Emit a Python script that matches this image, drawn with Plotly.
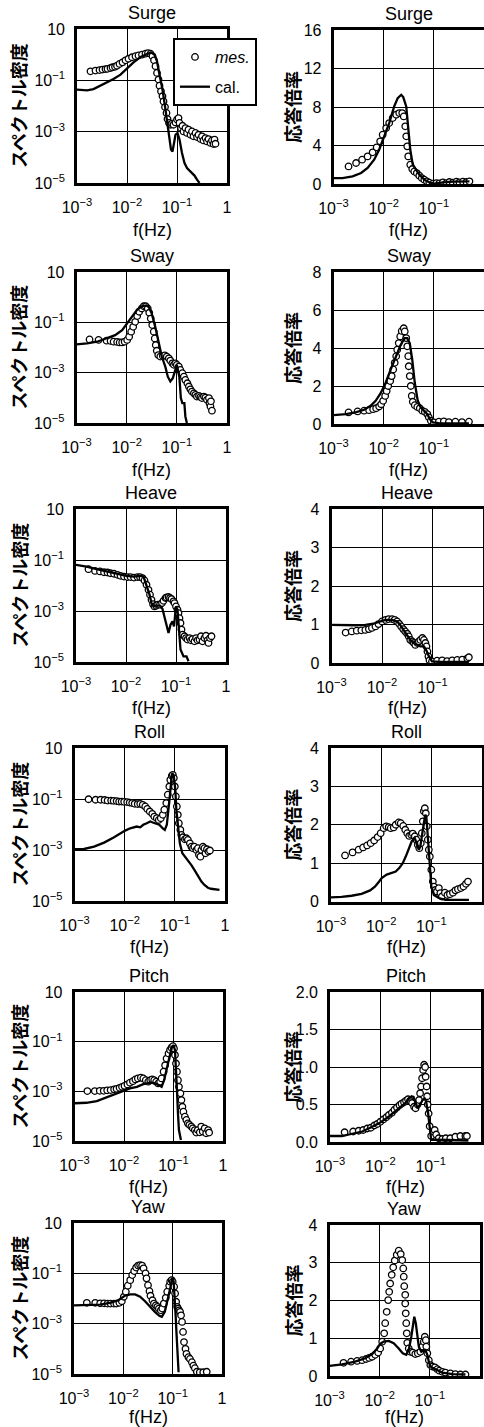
import plotly.graph_objects as go

W, H = 484, 1427

# ---------------- data ----------------
# spectral density panels: pairs (log10 f [Hz], log10 S)
# response panels:         pairs (log10 f [Hz], response ratio)
titles = ["Surge", "Sway", "Heave", "Roll", "Pitch", "Yaw"]
legend_names = ["<i>mes.</i>", "cal."]
x_tickvals = [1e-3, 1e-2, 1e-1, 1]
x_ticktext = ["10<sup>−3</sup>", "10<sup>−2</sup>", "10<sup>−1</sup>", "1"]
psd_tickvals = [1e-5, 1e-3, 1e-1, 10]
psd_ticktext = ["10<sup>−5</sup>", "10<sup>−3</sup>", "10<sup>−1</sup>", "10"]

surge_psd_cal = [(-3.00,-1.36),(-2.80,-1.39),(-2.67,-1.34),(-2.53,-1.21),(-2.40,-1.08),(-2.27,-0.95),(-2.13,-0.78),(-2.00,-0.52),(-1.87,-0.30),(-1.73,-0.09),(-1.60,0.03),(-1.52,0.09),(-1.45,0.00),(-1.40,-0.26),(-1.35,-0.78),(-1.29,-1.36),(-1.24,-2.01),(-1.20,-2.53),(-1.16,-3.18),(-1.12,-3.70),(-1.09,-3.77),(-1.07,-3.57),(-1.03,-3.12),(-0.99,-3.05),(-0.95,-3.31),(-0.90,-3.83),(-0.85,-4.22),(-0.80,-4.42),(-0.75,-4.51),(-0.70,-4.61),(-0.65,-4.71),(-0.60,-4.87),(-0.55,-5.00)]
surge_psd_mes = [(-2.73,-0.65),(-2.63,-0.62),(-2.55,-0.60),(-2.49,-0.58),(-2.43,-0.56),(-2.39,-0.55),(-2.33,-0.52),(-2.29,-0.49),(-2.24,-0.47),(-2.20,-0.43),(-2.15,-0.36),(-2.09,-0.30),(-2.03,-0.22),(-1.97,-0.16),(-1.90,-0.10),(-1.83,-0.06),(-1.77,-0.03),(-1.70,0.00),(-1.63,0.04),(-1.58,0.06),(-1.53,0.04),(-1.49,-0.06),(-1.46,-0.22),(-1.43,-0.45),(-1.40,-0.71),(-1.37,-0.97),(-1.35,-1.21),(-1.32,-1.43),(-1.29,-1.62),(-1.27,-1.82),(-1.24,-2.04),(-1.21,-2.27),(-1.19,-2.51),(-1.16,-2.66),(-1.13,-2.73),(-1.10,-2.69),(-1.07,-2.73),(-1.03,-2.64),(-1.00,-2.53),(-0.97,-2.47),(-0.95,-2.66),(-0.92,-2.86),(-0.89,-2.77),(-0.87,-2.99),(-0.83,-2.86),(-0.80,-3.05),(-0.77,-2.92),(-0.73,-3.12),(-0.70,-2.99),(-0.67,-3.18),(-0.63,-3.05),(-0.60,-3.21),(-0.57,-3.12),(-0.53,-3.29),(-0.50,-3.18),(-0.47,-3.34),(-0.43,-3.25),(-0.40,-3.38),(-0.37,-3.29),(-0.33,-3.44),(-0.30,-3.34),(-0.27,-3.48),(-0.25,-3.31),(-0.23,-3.47)]
surge_rao_cal = [(-3.00,0.62),(-2.82,0.62),(-2.62,0.80),(-2.45,1.14),(-2.32,1.66),(-2.19,2.53),(-2.09,3.56),(-1.99,4.95),(-1.89,6.33),(-1.79,8.06),(-1.72,8.93),(-1.65,9.27),(-1.61,9.03),(-1.55,8.06),(-1.51,5.99),(-1.47,3.56),(-1.42,2.01),(-1.35,1.49),(-1.29,0.97),(-1.19,0.45),(-1.09,0.17),(-0.99,0.03),(-0.82,0.17),(-0.62,0.24),(-0.42,0.28),(-0.29,0.28)]
surge_rao_mes = [(-2.70,1.83),(-2.55,2.18),(-2.43,2.53),(-2.32,2.87),(-2.22,3.29),(-2.14,3.81),(-2.07,4.43),(-2.02,5.12),(-1.95,5.81),(-1.89,6.33),(-1.82,6.85),(-1.75,7.20),(-1.69,7.37),(-1.63,7.37),(-1.60,7.02),(-1.57,5.99),(-1.55,4.95),(-1.53,3.91),(-1.51,2.87),(-1.47,2.01),(-1.43,1.56),(-1.39,1.31),(-1.34,1.14),(-1.29,0.87),(-1.24,0.62),(-1.19,0.45),(-1.14,0.28),(-1.09,0.14),(-1.02,0.03),(-0.95,0.10),(-0.89,0.07),(-0.82,0.17),(-0.75,0.10),(-0.69,0.21),(-0.62,0.14),(-0.55,0.24),(-0.49,0.17),(-0.42,0.24),(-0.35,0.21),(-0.29,0.28)]

sway_psd_cal = [(-3.00,-1.88),(-2.79,-1.84),(-2.59,-1.77),(-2.39,-1.64),(-2.23,-1.51),(-2.09,-1.31),(-1.99,-1.04),(-1.89,-0.72),(-1.79,-0.49),(-1.70,-0.36),(-1.61,-0.33),(-1.56,-0.39),(-1.50,-0.65),(-1.43,-1.18),(-1.36,-1.84),(-1.30,-2.36),(-1.23,-2.76),(-1.18,-3.16),(-1.13,-3.35),(-1.08,-3.22),(-1.03,-2.89),(-1.00,-2.69),(-0.95,-3.16),(-0.92,-4.01),(-0.89,-4.21),(-0.85,-4.21),(-0.83,-4.74),(-0.80,-5.00)]
sway_psd_mes = [(-2.74,-1.68),(-2.56,-1.70),(-2.40,-1.73),(-2.32,-1.74),(-2.26,-1.77),(-2.19,-1.78),(-2.14,-1.80),(-2.09,-1.80),(-2.04,-1.77),(-1.99,-1.70),(-1.95,-1.57),(-1.91,-1.37),(-1.87,-1.18),(-1.83,-0.98),(-1.79,-0.75),(-1.75,-0.58),(-1.70,-0.45),(-1.66,-0.36),(-1.62,-0.36),(-1.58,-0.45),(-1.55,-0.62),(-1.52,-0.85),(-1.49,-1.11),(-1.46,-1.37),(-1.44,-1.64),(-1.42,-1.90),(-1.40,-2.13),(-1.37,-2.30),(-1.33,-2.36),(-1.28,-2.34),(-1.24,-2.31),(-1.20,-2.36),(-1.16,-2.43),(-1.13,-2.52),(-1.09,-2.63),(-1.06,-2.69),(-1.03,-2.63),(-1.00,-2.69),(-0.96,-2.76),(-0.93,-2.89),(-0.89,-3.02),(-0.86,-3.16),(-0.83,-3.29),(-0.79,-3.42),(-0.76,-3.55),(-0.73,-3.66),(-0.70,-3.75),(-0.66,-3.82),(-0.63,-3.88),(-0.60,-3.95),(-0.56,-3.92),(-0.53,-3.97),(-0.50,-4.01),(-0.46,-3.95),(-0.43,-3.99),(-0.40,-4.08),(-0.36,-4.01),(-0.35,-4.21),(-0.33,-4.34),(-0.32,-4.14),(-0.30,-4.51)]
sway_rao_cal = [(-3.00,0.47),(-2.75,0.52),(-2.56,0.61),(-2.39,0.75),(-2.26,0.96),(-2.16,1.22),(-2.06,1.62),(-1.96,2.17),(-1.86,2.87),(-1.76,3.57),(-1.66,4.17),(-1.58,4.52),(-1.53,4.52),(-1.48,4.26),(-1.43,3.39),(-1.38,2.17),(-1.32,1.22),(-1.26,0.87),(-1.20,0.70),(-1.13,0.52),(-1.08,0.26),(-1.02,0.09),(-0.90,0.05),(-0.70,0.03),(-0.30,0.03)]
sway_rao_mes = [(-2.70,0.61),(-2.52,0.66),(-2.39,0.70),(-2.29,0.73),(-2.21,0.78),(-2.15,0.83),(-2.09,0.92),(-2.05,1.04),(-2.01,1.22),(-1.97,1.48),(-1.94,1.74),(-1.91,2.00),(-1.87,2.26),(-1.84,2.52),(-1.81,2.87),(-1.78,3.22),(-1.75,3.57),(-1.73,3.91),(-1.70,4.26),(-1.67,4.61),(-1.64,4.90),(-1.60,5.04),(-1.58,4.87),(-1.55,4.52),(-1.53,4.09),(-1.51,3.57),(-1.50,3.04),(-1.48,2.52),(-1.46,2.00),(-1.44,1.48),(-1.42,1.17),(-1.38,0.99),(-1.33,0.90),(-1.28,0.83),(-1.23,0.70),(-1.18,0.64),(-1.13,0.52),(-1.10,0.35),(-1.06,0.17),(-1.00,0.09),(-0.90,0.12),(-0.80,0.14),(-0.70,0.10),(-0.57,0.12),(-0.44,0.10),(-0.30,0.12)]

heave_psd_cal = [(-3.00,-1.19),(-2.79,-1.26),(-2.59,-1.36),(-2.39,-1.45),(-2.19,-1.54),(-1.99,-1.62),(-1.85,-1.65),(-1.72,-1.62),(-1.65,-1.65),(-1.59,-1.97),(-1.53,-2.36),(-1.49,-2.69),(-1.44,-2.82),(-1.39,-2.79),(-1.32,-2.79),(-1.27,-2.92),(-1.22,-3.28),(-1.19,-3.60),(-1.15,-3.86),(-1.11,-3.54),(-1.07,-3.41),(-1.04,-3.60),(-1.00,-2.82),(-0.97,-2.95),(-0.94,-3.73),(-0.91,-4.51),(-0.85,-4.78),(-0.79,-4.78),(-0.75,-4.97)]
heave_psd_mes = [(-2.75,-1.36),(-2.62,-1.43),(-2.52,-1.45),(-2.44,-1.48),(-2.37,-1.49),(-2.31,-1.52),(-2.24,-1.54),(-2.17,-1.58),(-2.11,-1.62),(-2.04,-1.65),(-1.97,-1.67),(-1.91,-1.67),(-1.84,-1.69),(-1.77,-1.67),(-1.72,-1.67),(-1.67,-1.71),(-1.63,-1.80),(-1.59,-1.97),(-1.55,-2.17),(-1.52,-2.36),(-1.49,-2.56),(-1.46,-2.73),(-1.43,-2.82),(-1.40,-2.79),(-1.36,-2.75),(-1.32,-2.75),(-1.28,-2.69),(-1.25,-2.60),(-1.21,-2.49),(-1.19,-2.47),(-1.15,-2.45),(-1.12,-2.49),(-1.09,-2.53),(-1.05,-2.62),(-1.03,-2.69),(-1.00,-2.82),(-0.97,-2.95),(-0.95,-3.08),(-0.93,-3.28),(-0.91,-3.47),(-0.89,-3.73),(-0.87,-3.93),(-0.83,-3.99),(-0.80,-4.06),(-0.77,-4.12),(-0.73,-4.06),(-0.70,-4.15),(-0.67,-4.10),(-0.63,-4.19),(-0.60,-4.06),(-0.57,-4.15),(-0.53,-4.12),(-0.50,-3.99),(-0.47,-4.19),(-0.43,-4.06),(-0.40,-3.97),(-0.37,-4.15),(-0.35,-4.25),(-0.32,-4.06),(-0.29,-3.99)]
heave_rao_cal = [(-3.00,0.99),(-2.79,0.98),(-2.53,0.98),(-2.33,0.99),(-2.17,1.02),(-2.03,1.08),(-1.93,1.12),(-1.80,1.12),(-1.70,1.08),(-1.64,0.99),(-1.57,0.86),(-1.50,0.73),(-1.44,0.60),(-1.37,0.52),(-1.30,0.47),(-1.24,0.43),(-1.17,0.43),(-1.13,0.35),(-1.07,0.17),(-1.01,0.04),(-0.87,0.03),(-0.54,0.03),(-0.28,0.03)]
heave_rao_mes = [(-2.72,0.79),(-2.60,0.82),(-2.50,0.84),(-2.41,0.85),(-2.33,0.86),(-2.26,0.88),(-2.20,0.91),(-2.13,0.95),(-2.07,1.01),(-2.00,1.08),(-1.93,1.12),(-1.87,1.14),(-1.80,1.14),(-1.75,1.12),(-1.70,1.08),(-1.66,1.02),(-1.62,0.95),(-1.58,0.88),(-1.54,0.82),(-1.50,0.76),(-1.47,0.69),(-1.44,0.60),(-1.40,0.56),(-1.37,0.52),(-1.34,0.47),(-1.30,0.52),(-1.27,0.56),(-1.24,0.60),(-1.20,0.65),(-1.17,0.60),(-1.14,0.52),(-1.12,0.43),(-1.10,0.30),(-1.08,0.17),(-1.06,0.07),(-1.01,0.04),(-0.91,0.06),(-0.81,0.07),(-0.71,0.05),(-0.61,0.07),(-0.51,0.08),(-0.41,0.09),(-0.31,0.12),(-0.28,0.15)]

roll_psd_cal = [(-3.00,-2.97),(-2.81,-2.96),(-2.61,-2.87),(-2.41,-2.71),(-2.22,-2.51),(-2.09,-2.34),(-1.99,-2.24),(-1.89,-2.15),(-1.82,-2.11),(-1.76,-2.08),(-1.69,-2.11),(-1.63,-2.01),(-1.56,-1.95),(-1.49,-1.88),(-1.44,-1.92),(-1.38,-1.95),(-1.31,-2.01),(-1.24,-2.15),(-1.20,-2.21),(-1.16,-2.01),(-1.13,-1.56),(-1.10,-0.90),(-1.07,-0.25),(-1.05,0.02),(-1.02,-0.11),(-0.99,-0.64),(-0.97,-1.42),(-0.93,-2.21),(-0.90,-2.74),(-0.85,-3.13),(-0.80,-3.26),(-0.74,-3.39),(-0.67,-3.59),(-0.61,-3.78),(-0.54,-4.02),(-0.47,-4.24),(-0.41,-4.37),(-0.34,-4.48),(-0.28,-4.52),(-0.21,-4.54),(-0.11,-4.56)]
roll_psd_mes = [(-2.72,-1.01),(-2.58,-1.03),(-2.48,-1.03),(-2.40,-1.04),(-2.34,-1.06),(-2.27,-1.06),(-2.22,-1.07),(-2.16,-1.08),(-2.11,-1.10),(-2.06,-1.10),(-2.01,-1.11),(-1.95,-1.12),(-1.90,-1.14),(-1.85,-1.16),(-1.80,-1.19),(-1.74,-1.20),(-1.69,-1.19),(-1.64,-1.23),(-1.59,-1.29),(-1.55,-1.39),(-1.50,-1.49),(-1.45,-1.58),(-1.41,-1.69),(-1.36,-1.75),(-1.32,-1.82),(-1.28,-1.75),(-1.24,-1.62),(-1.21,-1.42),(-1.17,-1.16),(-1.14,-0.83),(-1.11,-0.51),(-1.09,-0.25),(-1.06,-0.09),(-1.04,-0.05),(-1.02,-0.18),(-1.00,-0.51),(-0.98,-0.90),(-0.96,-1.29),(-0.94,-1.62),(-0.92,-1.95),(-0.89,-2.21),(-0.87,-2.41),(-0.84,-2.50),(-0.80,-2.58),(-0.77,-2.54),(-0.74,-2.60),(-0.70,-2.74),(-0.67,-2.87),(-0.64,-2.93),(-0.61,-2.87),(-0.57,-3.00),(-0.54,-2.93),(-0.52,-3.19),(-0.49,-3.26),(-0.47,-3.00),(-0.44,-2.87),(-0.41,-2.93),(-0.39,-3.13),(-0.36,-2.97),(-0.33,-3.06),(-0.30,-3.02)]
roll_rao_cal = [(-3.00,0.11),(-2.79,0.12),(-2.59,0.15),(-2.39,0.20),(-2.22,0.29),(-2.12,0.39),(-2.04,0.52),(-1.99,0.61),(-1.89,0.70),(-1.79,0.74),(-1.71,0.78),(-1.64,0.87),(-1.57,1.00),(-1.51,1.17),(-1.44,1.39),(-1.39,1.57),(-1.33,1.65),(-1.29,1.52),(-1.25,1.35),(-1.22,1.43),(-1.19,1.74),(-1.15,2.04),(-1.12,2.26),(-1.10,2.22),(-1.08,1.87),(-1.05,1.35),(-1.03,0.83),(-1.00,0.39),(-0.95,0.17),(-0.85,0.09),(-0.72,0.04),(-0.52,0.04),(-0.25,0.04)]
roll_rao_mes = [(-2.72,1.20),(-2.57,1.28),(-2.45,1.35),(-2.36,1.41),(-2.28,1.46),(-2.21,1.52),(-2.14,1.59),(-2.07,1.68),(-2.01,1.78),(-1.95,1.91),(-1.90,1.96),(-1.85,1.94),(-1.81,1.91),(-1.75,1.93),(-1.71,2.00),(-1.65,2.06),(-1.61,2.04),(-1.56,1.97),(-1.52,1.87),(-1.48,1.78),(-1.44,1.71),(-1.40,1.74),(-1.37,1.77),(-1.33,1.70),(-1.30,1.61),(-1.27,1.48),(-1.24,1.39),(-1.21,1.52),(-1.19,1.78),(-1.17,2.09),(-1.15,2.35),(-1.13,2.43),(-1.11,2.30),(-1.09,1.96),(-1.07,1.61),(-1.05,1.35),(-1.03,1.17),(-1.00,0.83),(-0.97,0.52),(-0.95,0.39),(-0.92,0.30),(-0.89,0.26),(-0.85,0.35),(-0.82,0.22),(-0.79,0.13),(-0.73,0.23),(-0.68,0.17),(-0.63,0.19),(-0.57,0.23),(-0.52,0.29),(-0.47,0.32),(-0.41,0.35),(-0.36,0.39),(-0.31,0.46),(-0.27,0.52)]

pitch_psd_cal = [(-3.00,-3.48),(-2.76,-3.46),(-2.55,-3.39),(-2.35,-3.24),(-2.18,-3.11),(-2.01,-2.98),(-1.88,-2.88),(-1.74,-2.82),(-1.61,-2.71),(-1.47,-2.65),(-1.37,-2.68),(-1.30,-2.75),(-1.24,-2.82),(-1.19,-2.55),(-1.14,-2.08),(-1.08,-1.61),(-1.03,-1.21),(-1.00,-1.14),(-0.97,-1.34),(-0.95,-2.00),(-0.93,-2.95),(-0.91,-3.89),(-0.89,-4.56),(-0.85,-4.96)]
pitch_psd_mes = [(-2.74,-2.99),(-2.59,-2.99),(-2.49,-2.98),(-2.41,-2.98),(-2.34,-2.96),(-2.27,-2.95),(-2.20,-2.92),(-2.15,-2.90),(-2.09,-2.86),(-2.04,-2.82),(-1.99,-2.78),(-1.93,-2.72),(-1.88,-2.65),(-1.82,-2.59),(-1.77,-2.52),(-1.72,-2.48),(-1.66,-2.45),(-1.61,-2.48),(-1.56,-2.55),(-1.51,-2.61),(-1.47,-2.55),(-1.43,-2.52),(-1.39,-2.55),(-1.35,-2.61),(-1.31,-2.68),(-1.27,-2.61),(-1.24,-2.48),(-1.20,-2.21),(-1.17,-1.95),(-1.14,-1.68),(-1.10,-1.48),(-1.07,-1.34),(-1.04,-1.24),(-1.01,-1.18),(-0.99,-1.28),(-0.97,-1.54),(-0.95,-1.88),(-0.93,-2.21),(-0.91,-2.55),(-0.89,-2.82),(-0.86,-3.08),(-0.84,-3.35),(-0.82,-3.62),(-0.80,-3.82),(-0.77,-4.02),(-0.74,-4.15),(-0.71,-4.29),(-0.68,-4.35),(-0.64,-4.42),(-0.61,-4.49),(-0.57,-4.56),(-0.54,-4.66),(-0.51,-4.56),(-0.47,-4.65),(-0.44,-4.42),(-0.41,-4.62),(-0.37,-4.49),(-0.34,-4.69),(-0.30,-4.56),(-0.28,-4.66)]
pitch_rao_cal = [(-3.00,0.08),(-2.76,0.08),(-2.56,0.11),(-2.36,0.14),(-2.17,0.20),(-2.00,0.26),(-1.83,0.34),(-1.70,0.41),(-1.58,0.47),(-1.50,0.52),(-1.44,0.57),(-1.38,0.61),(-1.34,0.60),(-1.30,0.52),(-1.26,0.45),(-1.21,0.50),(-1.16,0.56),(-1.12,0.58),(-1.09,0.54),(-1.05,0.38),(-1.02,0.16),(-0.99,0.03),(-0.91,0.03),(-0.77,0.03),(-0.51,0.02),(-0.25,0.02)]
pitch_rao_mes = [(-2.71,0.13),(-2.54,0.14),(-2.43,0.15),(-2.34,0.16),(-2.26,0.18),(-2.19,0.19),(-2.12,0.22),(-2.06,0.24),(-2.00,0.27),(-1.94,0.30),(-1.88,0.33),(-1.83,0.36),(-1.77,0.39),(-1.72,0.43),(-1.67,0.46),(-1.62,0.49),(-1.58,0.51),(-1.53,0.53),(-1.49,0.55),(-1.45,0.57),(-1.41,0.55),(-1.37,0.52),(-1.33,0.47),(-1.30,0.45),(-1.26,0.50),(-1.23,0.56),(-1.21,0.65),(-1.19,0.74),(-1.17,0.85),(-1.15,0.96),(-1.13,1.03),(-1.11,1.00),(-1.10,0.87),(-1.08,0.74),(-1.07,0.61),(-1.06,0.50),(-1.04,0.38),(-1.02,0.21),(-0.99,0.08),(-0.95,0.14),(-0.92,0.16),(-0.89,0.10),(-0.84,0.05),(-0.77,0.04),(-0.70,0.05),(-0.61,0.05),(-0.51,0.07),(-0.41,0.08),(-0.31,0.08),(-0.28,0.08)]

yaw_psd_cal = [(-3.00,-2.27),(-2.74,-2.27),(-2.47,-2.24),(-2.27,-2.17),(-2.10,-2.07),(-1.97,-1.89),(-1.86,-1.84),(-1.76,-1.84),(-1.66,-1.93),(-1.56,-2.11),(-1.46,-2.33),(-1.36,-2.53),(-1.27,-2.69),(-1.22,-2.73),(-1.16,-2.53),(-1.11,-2.13),(-1.05,-1.60),(-1.02,-1.27),(-1.00,-1.17),(-0.98,-1.33),(-0.96,-1.87),(-0.94,-2.67),(-0.92,-3.47),(-0.90,-4.27),(-0.88,-4.93)]
yaw_psd_mes = [(-2.74,-2.17),(-2.57,-2.17),(-2.47,-2.19),(-2.39,-2.19),(-2.32,-2.20),(-2.26,-2.20),(-2.19,-2.20),(-2.14,-2.20),(-2.08,-2.17),(-2.03,-2.11),(-1.99,-1.93),(-1.95,-1.73),(-1.91,-1.49),(-1.86,-1.27),(-1.82,-1.07),(-1.78,-0.91),(-1.74,-0.77),(-1.70,-0.69),(-1.66,-0.67),(-1.62,-0.69),(-1.59,-0.80),(-1.55,-1.00),(-1.53,-1.20),(-1.50,-1.47),(-1.47,-1.71),(-1.45,-1.89),(-1.41,-2.07),(-1.38,-2.20),(-1.34,-2.27),(-1.31,-2.33),(-1.28,-2.40),(-1.24,-2.47),(-1.21,-2.40),(-1.18,-2.20),(-1.14,-1.97),(-1.11,-1.73),(-1.07,-1.49),(-1.05,-1.33),(-1.02,-1.27),(-1.00,-1.33),(-0.97,-1.53),(-0.95,-1.80),(-0.93,-2.13),(-0.91,-2.33),(-0.89,-2.40),(-0.87,-2.47),(-0.85,-2.53),(-0.83,-2.67),(-0.81,-2.93),(-0.79,-3.33),(-0.77,-3.73),(-0.74,-4.00),(-0.72,-4.20),(-0.68,-4.33),(-0.65,-4.40),(-0.61,-4.53),(-0.58,-4.67),(-0.55,-4.77),(-0.51,-4.91),(-0.45,-4.93),(-0.38,-4.93),(-0.31,-4.91)]
yaw_rao_cal = [(-3.00,0.27),(-2.75,0.31),(-2.49,0.38),(-2.29,0.47),(-2.15,0.58),(-2.05,0.73),(-1.99,0.85),(-1.92,0.91),(-1.82,0.93),(-1.72,0.87),(-1.62,0.73),(-1.54,0.60),(-1.47,0.56),(-1.42,0.69),(-1.37,1.04),(-1.33,1.48),(-1.31,1.57),(-1.28,1.40),(-1.25,1.04),(-1.22,0.78),(-1.17,0.64),(-1.12,0.69),(-1.09,0.69),(-1.05,0.56),(-1.02,0.38),(-0.99,0.25),(-0.92,0.20),(-0.85,0.16),(-0.75,0.09),(-0.55,0.05),(-0.29,0.04)]
yaw_rao_mes = [(-2.72,0.35),(-2.57,0.38),(-2.45,0.40),(-2.35,0.42),(-2.27,0.45),(-2.21,0.48),(-2.15,0.51),(-2.09,0.56),(-2.03,0.62),(-1.99,0.73),(-1.95,0.91),(-1.91,1.13),(-1.89,1.40),(-1.86,1.70),(-1.83,2.01),(-1.81,2.23),(-1.79,2.45),(-1.76,2.68),(-1.73,2.88),(-1.70,3.06),(-1.66,3.21),(-1.62,3.32),(-1.58,3.23),(-1.55,3.07),(-1.53,2.85),(-1.52,2.63),(-1.51,2.38),(-1.49,2.15),(-1.49,1.92),(-1.48,1.66),(-1.47,1.40),(-1.46,1.13),(-1.45,0.88),(-1.42,0.73),(-1.39,0.64),(-1.34,0.62),(-1.29,0.58),(-1.24,0.60),(-1.19,0.64),(-1.15,0.78),(-1.12,0.91),(-1.10,1.04),(-1.08,0.95),(-1.07,0.78),(-1.05,0.60),(-1.02,0.42),(-0.99,0.29),(-0.95,0.25),(-0.90,0.23),(-0.85,0.18),(-0.81,0.14),(-0.75,0.11),(-0.69,0.09),(-0.59,0.07),(-0.49,0.05),(-0.39,0.04),(-0.29,0.04)]

rao_tickvals = [[0, 4, 8, 12, 16], [0, 2, 4, 6, 8], [0, 1, 2, 3, 4], [0, 1, 2, 3, 4], [0.0, 0.5, 1.0, 1.5, 2.0], [0, 1, 2, 3, 4]]
rao_ticktext = [["0", "4", "8", "12", "16"], ["0", "2", "4", "6", "8"], ["0", "1", "2", "3", "4"], ["0", "1", "2", "3", "4"], ["0.0", "0.5", "1.0", "1.5", "2.0"], ["0", "1", "2", "3", "4"]]

psd_data = [(surge_psd_mes, surge_psd_cal), (sway_psd_mes, sway_psd_cal), (heave_psd_mes, heave_psd_cal),
            (roll_psd_mes, roll_psd_cal), (pitch_psd_mes, pitch_psd_cal), (yaw_psd_mes, yaw_psd_cal)]
rao_data = [(surge_rao_mes, surge_rao_cal), (sway_rao_mes, sway_rao_cal), (heave_rao_mes, heave_rao_cal),
            (roll_rao_mes, roll_rao_cal), (pitch_rao_mes, pitch_rao_cal), (yaw_rao_mes, yaw_rao_cal)]

# ---------------- layout geometry (pixels) ----------------
left_x = [(77, 227), (76.5, 227), (76, 226), (74.5, 225), (74.5, 223), (74, 222)]
right_x = [(333.5, 484), (333.5, 484), (331.5, 483), (331, 481.5), (330, 481), (329.5, 480)]
left_y = [(29, 183), (272, 423), (509, 662), (748, 901), (992, 1141), (1223, 1374)]
right_y = [(30, 184), (272, 424), (509, 663), (748, 901.5), (992, 1142), (1225, 1376)]
# vertical centre of the "f(Hz)" label of each row (pixels)
xtitle_y = [230, 470, 708, 947, 1187, 1417]

TXT = "Liberation Sans"
CJK = "Noto Sans CJK JP"

def xd(a, b):
    return [a / W, b / W]

def yd(t, b):
    return [1 - b / H, 1 - t / H]

fig = go.Figure()
layout = {}
annotations = []

def unlog(v):
    return 10 ** v

axis_common = dict(showline=True, linecolor="black", linewidth=2.6, mirror=True,
                   showgrid=True, gridcolor="black", gridwidth=1.4, zeroline=False,
                   automargin=False,
                   ticks="", tickfont=dict(family=TXT, size=16, color="black"))

for r in range(6):
    for c in range(2):
        k = r * 2 + c + 1
        xa = "x" if k == 1 else f"x{k}"
        ya = "y" if k == 1 else f"y{k}"
        xname = "xaxis" if k == 1 else f"xaxis{k}"
        yname = "yaxis" if k == 1 else f"yaxis{k}"
        if c == 0:
            mes, cal = psd_data[r]
            xdom, (t, b) = left_x[r], left_y[r]
        else:
            mes, cal = rao_data[r]
            xdom, (t, b) = right_x[r], right_y[r]
        mx = [unlog(p[0]) for p in mes]
        cx = [unlog(p[0]) for p in cal]
        if c == 0:
            my = [unlog(p[1]) for p in mes]
            cy = [unlog(p[1]) for p in cal]
        else:
            my = [p[1] for p in mes]
            cy = [p[1] for p in cal]
        first = (k == 1)
        fig.add_trace(go.Scatter(x=mx, y=my, mode="markers", xaxis=xa, yaxis=ya,
                                 name=legend_names[0], showlegend=first, legendgroup="mes",
                                 marker=dict(symbol="circle", size=6.5, color="white",
                                             line=dict(color="black", width=1.3))))
        fig.add_trace(go.Scatter(x=cx, y=cy, mode="lines", xaxis=xa, yaxis=ya,
                                 name=legend_names[1], showlegend=first, legendgroup="cal",
                                 line=dict(color="black", width=2.3)))
        layout[xname] = dict(axis_common, type="log", range=[-3, 0], domain=xd(*xdom),
                             anchor=ya, tickvals=x_tickvals, ticktext=x_ticktext,
                             ticklabelstandoff=8)
        if c == 0:
            layout[yname] = dict(axis_common, type="log", range=[-5, 1], domain=yd(t, b),
                                 anchor=xa, tickvals=psd_tickvals, ticktext=psd_ticktext,
                                 ticklabelstandoff=6)
        else:
            tv = rao_tickvals[r]
            layout[yname] = dict(axis_common, type="linear", range=[tv[0], tv[-1]], domain=yd(t, b),
                                 anchor=xa, tickvals=tv, ticktext=rao_ticktext[r],
                                 ticklabelstandoff=6)
        xc = (xdom[0] + xdom[1]) / 2
        annotations.append(dict(text=titles[r], x=xc / W, y=1 - (t - 16) / H, xref="paper", yref="paper",
                                showarrow=False, xanchor="center", yanchor="middle",
                                font=dict(family=TXT, size=18, color="black")))
        annotations.append(dict(text="f(Hz)", x=xc / W, y=1 - xtitle_y[r] / H, xref="paper", yref="paper",
                                showarrow=False, xanchor="center", yanchor="middle",
                                font=dict(family=TXT, size=18, color="black")))
        ytxt = "スペクトル密度" if c == 0 else "応答倍率"
        yx = 18 if c == 0 else 292
        annotations.append(dict(text=f"<b>{ytxt}</b>", x=yx / W, y=1 - ((t + b) / 2) / H, xref="paper", yref="paper",
                                showarrow=False, xanchor="center", yanchor="middle", textangle=-90,
                                font=dict(family=CJK, size=18, color="black")))

fig.update_layout(**layout)
fig.update_layout(
    width=W, height=H,
    margin=dict(l=0, r=0, t=0, b=0, autoexpand=False),
    paper_bgcolor="white", plot_bgcolor="white",
    annotations=annotations,
    showlegend=True,
    hovermode=False,
    legend=dict(x=173 / W, y=1 - 38 / H, xanchor="left", yanchor="top",
                bgcolor="white", bordercolor="black", borderwidth=2,
                font=dict(family=TXT, size=16, color="black"),
                tracegroupgap=6, traceorder="grouped", itemwidth=30),
)

fig.write_html("out.html", config={"displayModeBar": False},
               post_script="document.body.style.margin='0px';")
